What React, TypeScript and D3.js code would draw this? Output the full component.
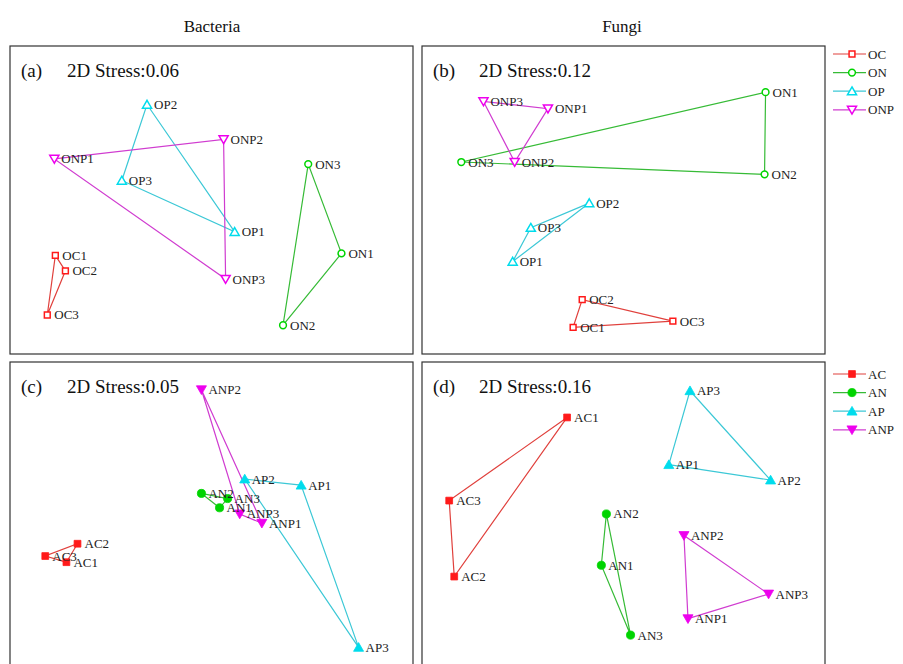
import React from "react";
import * as d3 from "d3";

// ---------- data ----------
const columnTitles = ["Bacteria", "Fungi"];
const panelLetters = ["(a)", "(b)", "(c)", "(d)"];
const stressValues = ["0.06", "0.12", "0.05", "0.16"];

const groupsOrganic = ["OC", "ON", "OP", "ONP"];
const groupsAmended = ["AC", "AN", "AP", "ANP"];

// panel (a) Bacteria, organic
const samplesA = ["OC1", "OC2", "OC3", "ON1", "ON2", "ON3", "OP1", "OP2", "OP3", "ONP1", "ONP2", "ONP3"];
const nmds1A = [-1.55, -1.45, -1.63, 1.29, 0.71, 0.96, 0.23, -0.64, -0.89, -1.56, 0.12, 0.14];
const nmds2A = [-0.54, -0.69, -1.12, -0.52, -1.22, 0.35, -0.31, 0.93, 0.19, 0.4, 0.59, -0.77];

// panel (b) Fungi, organic
const samplesB = ["OC1", "OC2", "OC3", "ON1", "ON2", "ON3", "OP1", "OP2", "OP3", "ONP1", "ONP2", "ONP3"];
const nmds1B = [-0.5, -0.41, 0.49, 1.41, 1.4, -1.61, -1.1, -0.34, -0.92, -0.75, -1.08, -1.39];
const nmds2B = [-1.24, -0.97, -1.18, 1.05, 0.25, 0.37, -0.6, -0.03, -0.27, 0.89, 0.37, 0.96];

// panel (c) Bacteria, amended
const samplesC = ["AC1", "AC2", "AC3", "AN1", "AN2", "AN3", "AP1", "AP2", "AP3", "ANP1", "ANP2", "ANP3"];
const nmds1C = [-1.44, -1.33, -1.65, 0.08, -0.1, 0.16, 0.89, 0.33, 1.46, 0.5, -0.1, 0.28];
const nmds2C = [-0.45, -0.27, -0.39, 0.08, 0.22, 0.17, 0.3, 0.36, -1.28, -0.07, 1.23, 0.02];

// panel (d) Fungi, amended
const samplesD = ["AC1", "AC2", "AC3", "AN1", "AN2", "AN3", "AP1", "AP2", "AP3", "ANP1", "ANP2", "ANP3"];
const nmds1D = [-0.56, -1.68, -1.73, -0.22, -0.17, 0.07, 0.45, 1.46, 0.66, 0.64, 0.6, 1.44];
const nmds2D = [0.96, -0.59, 0.15, -0.48, 0.02, -1.16, 0.5, 0.35, 1.22, -1.0, -0.19, -0.76];

// ---------- styles ----------
const FONT = "'Liberation Serif', 'Times New Roman', serif";
const lineColors = ["#e0403c", "#36bb36", "#3cc8d6", "#d03cd0"];
const markerColors = ["#ff1a1a", "#00d400", "#00dcec", "#ee00ee"];
const symbolTypes = [d3.symbolSquare, d3.symbolCircle, d3.symbolTriangle, d3.symbolTriangle];

const panelBoxes = [
  { x0: 10, x1: 413, y0: 46, y1: 354 },
  { x0: 422, x1: 825, y0: 46, y1: 354 },
  { x0: 10, x1: 413, y0: 362, y1: 670 },
  { x0: 422, x1: 825, y0: 362, y1: 670 },
];

const panelData = [
  { samples: samplesA, x: nmds1A, y: nmds2A, groups: groupsOrganic, filled: false },
  { samples: samplesB, x: nmds1B, y: nmds2B, groups: groupsOrganic, filled: false },
  { samples: samplesC, x: nmds1C, y: nmds2C, groups: groupsAmended, filled: true },
  { samples: samplesD, x: nmds1D, y: nmds2D, groups: groupsAmended, filled: true },
];

function symbolPath(gi: number, filled: boolean) {
  const size = filled ? [46, 52, 44, 44][gi] : [34, 36, 36, 36][gi];
  return d3.symbol().type(symbolTypes[gi]).size(size)() as string;
}

function Marker({ gi, filled, x, y }: { gi: number; filled: boolean; x: number; y: number }) {
  const rot = gi === 3 ? 180 : 0;
  const dy = gi === 3 ? -1 : gi === 2 ? 1 : 0;
  return (
    <path
      d={symbolPath(gi, filled)}
      transform={`translate(${x},${y + dy}) rotate(${rot})`}
      fill={filled ? markerColors[gi] : "white"}
      stroke={markerColors[gi]}
      strokeWidth={filled ? 0.8 : 1.5}
    />
  );
}

function Panel({ idx }: { idx: number }) {
  const box = panelBoxes[idx];
  const data = panelData[idx];
  const xs = d3.scaleLinear().domain([-2, 2]).range([box.x0, box.x1]);
  const ys = d3.scaleLinear().domain([-1.5, 1.5]).range([box.y1, box.y0]);
  const pts = data.samples.map((s, i) => ({
    name: s,
    group: s.replace(/\d+$/, ""),
    px: xs(data.x[i]),
    py: ys(data.y[i]),
  }));
  const line = d3
    .line<{ px: number; py: number }>()
    .x((d) => d.px)
    .y((d) => d.py)
    .curve(d3.curveLinearClosed);
  return (
    <g>
      <defs>
        <clipPath id={`clip${idx}`}>
          <rect x={box.x0} y={box.y0} width={box.x1 - box.x0} height={box.y1 - box.y0} />
        </clipPath>
      </defs>
      <rect
        x={box.x0}
        y={box.y0}
        width={box.x1 - box.x0}
        height={box.y1 - box.y0}
        fill="white"
        stroke="#333"
        strokeWidth={1.2}
      />
      <g clipPath={`url(#clip${idx})`}>
        {data.groups.map((g, gi) => {
          const gp = pts.filter((p) => p.group === g);
          return (
            <path key={g} d={line(gp) as string} fill="none" stroke={lineColors[gi]} strokeWidth={1.2} />
          );
        })}
        {pts.map((p) => {
          const gi = data.groups.indexOf(p.group);
          return <Marker key={p.name} gi={gi} filled={data.filled} x={p.px} y={p.py} />;
        })}
        {pts.map((p) => (
          <text
            key={p.name + "t"}
            x={p.px + 7}
            y={p.py + 4.5}
            fontFamily={FONT}
            fontSize={13}
            fill="#222"
          >
            {p.name}
          </text>
        ))}
      </g>
      <text x={box.x0 + 11} y={box.y0 + 31} fontFamily={FONT} fontSize={19} fill="#111">
        {panelLetters[idx]}
      </text>
      <text x={box.x0 + 57} y={box.y0 + 31} fontFamily={FONT} fontSize={19} fill="#111">
        {`2D Stress:${stressValues[idx]}`}
      </text>
    </g>
  );
}

function Legend({ groups, filled, y0 }: { groups: string[]; filled: boolean; y0: number }) {
  return (
    <g>
      {groups.map((g, gi) => {
        const y = y0 + gi * 18.6;
        return (
          <g key={g}>
            <line x1={833} x2={866} y1={y} y2={y} stroke={lineColors[gi]} strokeWidth={1.2} />
            <Marker gi={gi} filled={filled} x={852} y={y} />
            <text x={868} y={y + 4.5} fontFamily={FONT} fontSize={13} fill="#222">
              {g}
            </text>
          </g>
        );
      })}
    </g>
  );
}

export default function App() {
  return (
    <svg
      width={903}
      height={664}
      style={{ position: "absolute", left: 0, top: 0, background: "white" }}
    >
      <rect x={0} y={0} width={903} height={664} fill="white" />
      <text x={212} y={32} textAnchor="middle" fontFamily={FONT} fontSize={17} fill="#111">
        {columnTitles[0]}
      </text>
      <text x={622} y={32} textAnchor="middle" fontFamily={FONT} fontSize={17} fill="#111">
        {columnTitles[1]}
      </text>
      {[0, 1, 2, 3].map((i) => (
        <Panel key={i} idx={i} />
      ))}
      <Legend groups={groupsOrganic} filled={false} y0={54} />
      <Legend groups={groupsAmended} filled={true} y0={374} />
    </svg>
  );
}
